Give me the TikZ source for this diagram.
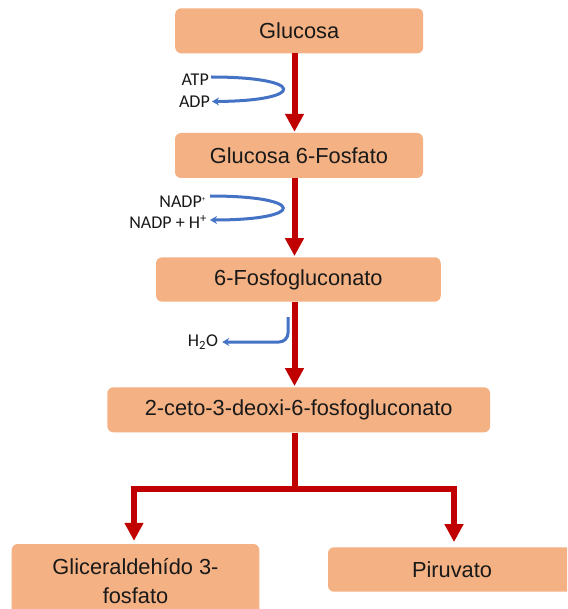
\documentclass[tikz,border=0pt]{standalone}
\usepackage{fontspec}
\setmainfont{Liberation Sans}
\newfontfamily\labfont{Carlito}
\usetikzlibrary{arrows.meta}
\definecolor{boxfill}{HTML}{F4B183}
\definecolor{pathred}{HTML}{C00000}
\definecolor{cofblue}{HTML}{4472C4}
\begin{document}
\begin{tikzpicture}[x=1pt,y=-1pt,
  stepbox/.style={fill=boxfill, rounded corners=6pt, inner sep=0pt, align=center,
    font=\fontsize{21.8}{28.5}\selectfont, text=black!90},
  cofac/.style={anchor=east, inner sep=2pt, font=\labfont\fontsize{18}{20}\selectfont, text=black!90},
  redline/.style={draw=pathred, line width=6pt},
  redarrow/.style={redline, -{Triangle[length=18pt,width=18pt]}},
  bluearrow/.style={draw=cofblue, line width=3pt, -{Stealth[length=7pt,width=8pt]}}]
\useasboundingbox (0,0) rectangle (567,609);
\clip (0,0) rectangle (567,609);
% boxes
\node[stepbox, minimum width=248pt, minimum height=45pt] (glu) at (299.2,30.8) {Glucosa};
\node[stepbox, minimum width=248pt, minimum height=45pt] (g6f) at (299,155.5) {Glucosa 6-Fosfato};
\node[stepbox, minimum width=284.7pt, minimum height=44.4pt] (fg) at (298.4,279.5) {6-Fosfogluconato};
\node[stepbox, minimum width=382.7pt, minimum height=45pt] (ceto) at (298.7,409.8) {2-ceto-3-deoxi-6-fosfogluconato};
\node[stepbox, minimum width=247.6pt, minimum height=74pt] (gap) at (135.5,581) {Gliceraldehído 3-\\fosfato};
\node[stepbox, minimum width=248pt, minimum height=44.4pt] (pir) at (452,569.5) {Piruvato};
% main axis coordinates
\coordinate (ax) at (294.5,0);
\coordinate (jc) at (294.5,489);
\coordinate (jl) at (134,489);
\coordinate (jr) at (454,489);
% red arrows
\draw[redarrow] (glu.south -| ax) -- ([yshift=1pt]g6f.north -| ax);
\draw[redarrow] (g6f.south -| ax) -- ([yshift=1pt]fg.north -| ax);
\draw[redarrow] (fg.south -| ax) -- ([yshift=1pt]ceto.north -| ax);
\draw[redline] (ceto.south -| ax) -- (jc);
\draw[redline, line cap=rect] (jl) -- (jr);
\draw[redarrow] (jl) -- ([yshift=3pt]gap.north -| jl);
\draw[redarrow] (jr) -- ([yshift=5pt]pir.north -| jr);
% cofactors
\node[cofac] (atp) at (211,80) {ATP};
\node[cofac] (adp) at (212,101.5) {ADP};
\draw[bluearrow] ([yshift=3pt]atp.east) .. controls (307,77) and (307,101) .. (adp.east);
\node[cofac] (nadp) at (208,202) {NADP\textsuperscript{\scriptsize +}};
\node[cofac] (nadph) at (209,222) {NADP + H\textsuperscript{+}};
\draw[bluearrow] ([yshift=6pt,xshift=2pt]nadp.east) .. controls (307,196) and (307,220) .. ([yshift=2pt,xshift=1pt]nadph.east);
\node[cofac, anchor=center, inner sep=4pt] (h2o) at (203,342) {H\textsubscript{2}O};
\coordinate (hs) at (288,317);
\draw[bluearrow, rounded corners=9pt] (hs) -- (hs |- h2o) -- (h2o.east);
\end{tikzpicture}
\end{document}
